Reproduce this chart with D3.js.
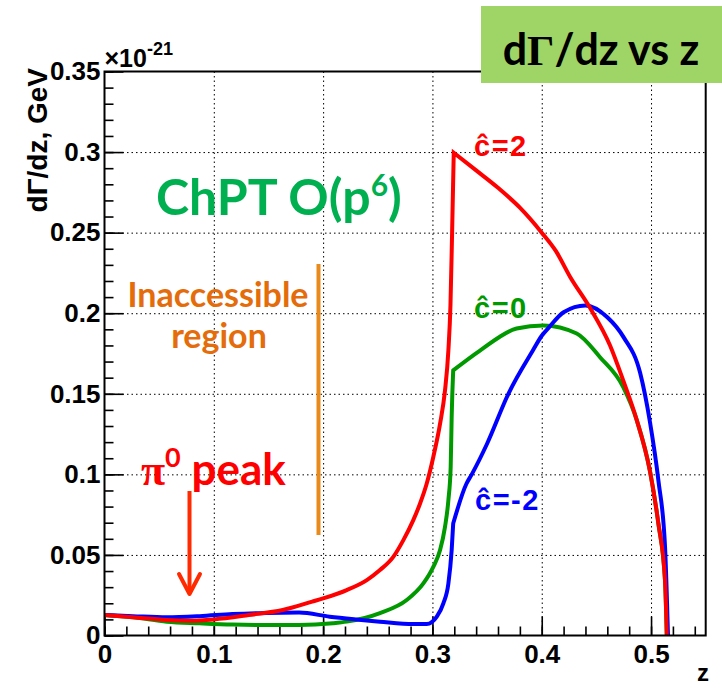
<!DOCTYPE html>
<html>
<head>
<meta charset="utf-8">
<script src="https://cdn.jsdelivr.net/npm/d3@7"></script>
<style>
  body { margin: 0; background: #fff; }
  .axis text { font-family: "Liberation Sans", Arial, sans-serif; font-weight: bold; font-size: 26px; fill: #000; }
  .axis line { stroke: #000; stroke-width: 1.6px; }
  .axis path { display: none; }
  .grid line { stroke: #000; stroke-width: 1px; stroke-dasharray: 1.5,3; }
  .grid path { display: none; }
  .note { font-family: Lato, "Open Sans", sans-serif; font-weight: bold; }
  .clab { font-family: "Liberation Sans", Arial, sans-serif; font-weight: bold; font-size: 29px; letter-spacing: 1.5px; }
</style>
</head>
<body>
<div id="chart"></div>
<script>
var w = 722, h = 688;
// frame of the plot
var frameL = 104.5, frameR = 705.7, frameT = 71.5, frameB = 635.5;

// tick values and labels
var xTicks = [0, 0.1, 0.2, 0.3, 0.4, 0.5];
var xLabels = ["0", "0.1", "0.2", "0.3", "0.4", "0.5"];
var yTicks = [0, 0.05, 0.1, 0.15, 0.2, 0.25, 0.3, 0.35];
var yLabels = ["0", "0.05", "0.1", "0.15", "0.2", "0.25", "0.3", "0.35"];

// c-hat = 2 (red)
var redZ = [0, 0.026, 0.057, 0.078, 0.1, 0.132, 0.163, 0.19, 0.2, 0.2216, 0.24, 0.252, 0.2642, 0.2734, 0.2825, 0.2887, 0.2948, 0.3008, 0.307, 0.3115, 0.3146, 0.3165, 0.318, 0.3195, 0.34, 0.36, 0.38, 0.40, 0.413, 0.426, 0.444, 0.4625, 0.4747, 0.487, 0.499, 0.5067, 0.5128, 0.5144];
var redV = [0.0127, 0.0113, 0.0096, 0.0092, 0.0100, 0.0127, 0.0158, 0.0210, 0.0230, 0.0282, 0.0344, 0.0406, 0.0488, 0.0592, 0.0716, 0.0819, 0.0943, 0.1108, 0.1315, 0.152, 0.177, 0.205, 0.250, 0.2996, 0.2886, 0.2778, 0.2655, 0.2500, 0.2385, 0.2225, 0.2035, 0.180, 0.158, 0.1335, 0.1020, 0.0695, 0.034, 0];

// c-hat = 0 (green)
var greenZ = [0, 0.026, 0.057, 0.087, 0.117, 0.148, 0.178, 0.209, 0.2216, 0.252, 0.2765, 0.2917, 0.3008, 0.307, 0.3115, 0.3146, 0.3167, 0.3176, 0.319, 0.3435, 0.377, 0.4015, 0.432, 0.4533, 0.4747, 0.487, 0.499, 0.5067, 0.5128, 0.5144];
var greenV = [0.0127, 0.0113, 0.0086, 0.0076, 0.0068, 0.0065, 0.0065, 0.0076, 0.0086, 0.0139, 0.022, 0.0323, 0.0426, 0.053, 0.0674, 0.084, 0.1046, 0.1356, 0.1645, 0.1768, 0.1905, 0.1924, 0.1874, 0.1727, 0.154, 0.1335, 0.1020, 0.0695, 0.034, 0];

// c-hat = -2 (blue)
var blueZ = [0, 0.026, 0.057, 0.087, 0.117, 0.148, 0.178, 0.206, 0.23, 0.252, 0.2826, 0.2948, 0.304, 0.31, 0.3146, 0.3176, 0.319, 0.331, 0.336, 0.35, 0.3695, 0.392, 0.40, 0.407, 0.42, 0.44, 0.46, 0.475, 0.49, 0.499, 0.5067, 0.5128, 0.5155];
var blueV = [0.0127, 0.0120, 0.0113, 0.0120, 0.0133, 0.0140, 0.0142, 0.0117, 0.0100, 0.0086, 0.0071, 0.0071, 0.0117, 0.020, 0.0323, 0.053, 0.0695, 0.094, 0.100, 0.119, 0.150, 0.177, 0.186, 0.1915, 0.2006, 0.2048, 0.1975, 0.185, 0.163, 0.1325, 0.0963, 0.055, 0];

var xScale = d3.scaleLinear().domain([0, 0.55]).range([frameL, frameR]);
var yScale = d3.scaleLinear().domain([0, 0.35]).range([frameB, frameT]);

var svg = d3.select("#chart").append("svg")
  .attr("width", w).attr("height", h);
svg.append("rect").attr("width", w).attr("height", h).attr("fill", "#fff");

// dotted grid
svg.append("g").attr("class", "grid")
  .attr("transform", "translate(0," + frameB + ")")
  .call(d3.axisBottom(xScale).tickValues(xTicks.slice(1)).tickSize(-(frameB - frameT)).tickFormat(""));
svg.append("g").attr("class", "grid")
  .attr("transform", "translate(" + frameL + ",0)")
  .call(d3.axisLeft(yScale).tickValues(yTicks.slice(1, -1)).tickSize(-(frameR - frameL)).tickFormat(""));

// minor ticks
svg.append("g").attr("class", "axis")
  .attr("transform", "translate(0," + frameB + ")")
  .call(d3.axisBottom(xScale).tickValues(d3.range(0, 0.551, 0.02)).tickSizeInner(-9).tickSizeOuter(0).tickFormat(""));
svg.append("g").attr("class", "axis")
  .attr("transform", "translate(" + frameL + ",0)")
  .call(d3.axisLeft(yScale).tickValues(d3.range(0, 0.351, 0.01)).tickSizeInner(-9).tickSizeOuter(0).tickFormat(""));

// major ticks + labels
svg.append("g").attr("class", "axis")
  .attr("transform", "translate(0," + frameB + ")")
  .call(d3.axisBottom(xScale).tickValues(xTicks).tickSizeInner(-19).tickSizeOuter(0).tickPadding(9)
    .tickFormat(function(d, i) { return xLabels[i]; }));
svg.append("g").attr("class", "axis")
  .attr("transform", "translate(" + frameL + ",0)")
  .call(d3.axisLeft(yScale).tickValues(yTicks).tickSizeInner(-19).tickSizeOuter(0).tickPadding(4)
    .tickFormat(function(d, i) { return yLabels[i]; }));

// curves: smooth on each side of the jump, sharp corner at the jump
var line = d3.line()
  .x(function(d) { return xScale(d[0]); })
  .y(function(d) { return yScale(d[1]); })
  .curve(d3.curveMonotoneX);

function curvePath(zs, vs, zBreak) {
  var pts = d3.zip(zs, vs);
  var a = pts.filter(function(p) { return p[0] <= zBreak; });
  var b = pts.filter(function(p) { return p[0] >= zBreak; });
  return line(a) + line(b).replace(/^M/, "L");
}

var series = [
  {z: greenZ, v: greenV, brk: 0.319, color: "#009a00"},
  {z: blueZ, v: blueV, brk: 0.319, color: "#0000ff"},
  {z: redZ, v: redV, brk: 0.3195, color: "#ff0000"}
];
series.forEach(function(s) {
  svg.append("path")
    .attr("d", curvePath(s.z, s.v, s.brk))
    .attr("fill", "none")
    .attr("stroke", s.color)
    .attr("stroke-width", 4)
    .attr("stroke-linejoin", "miter");
});

// frame
svg.append("rect")
  .attr("x", frameL).attr("y", frameT)
  .attr("width", frameR - frameL).attr("height", frameB - frameT)
  .attr("fill", "none").attr("stroke", "#000").attr("stroke-width", 2);

// axis titles
var ex = svg.append("text")
  .attr("x", frameL).attr("y", 67)
  .style("font-family", "Liberation Sans, Arial, sans-serif")
  .style("font-weight", "bold")
  .style("font-size", "25px");
ex.append("tspan").text("\u00d710");
ex.append("tspan").attr("dy", -12).style("font-size", "18px").text("-21");

svg.append("text")
  .attr("transform", "translate(47,68) rotate(-90)")
  .attr("text-anchor", "end")
  .style("font-family", "Liberation Sans, Arial, sans-serif")
  .style("font-weight", "bold")
  .style("font-size", "28px")
  .text("d\u0393/dz, GeV");

svg.append("text")
  .attr("x", 709).attr("y", 681)
  .attr("text-anchor", "end")
  .style("font-family", "Liberation Sans, Arial, sans-serif")
  .style("font-weight", "bold")
  .style("font-size", "24px")
  .text("z");

// title box
svg.append("rect")
  .attr("x", 481).attr("y", 6).attr("width", 241).attr("height", 77)
  .attr("fill", "#9fd466");
var tt = svg.append("text")
  .attr("class", "note")
  .attr("x", 601).attr("y", 65)
  .attr("text-anchor", "middle")
  .style("font-size", "43px")
  .attr("fill", "#000");
tt.append("tspan").text("d");
tt.append("tspan").style("font-family", "Liberation Serif, serif").text("\u0393");
tt.append("tspan").text("/dz vs z");

// annotations
var ch = svg.append("text").attr("class", "note")
  .attr("x", 156).attr("y", 215)
  .style("font-size", "50px").attr("fill", "#00b050");
ch.append("tspan").text("ChPT O(p");
ch.append("tspan").attr("dy", -19).style("font-size", "30px").text("6");
ch.append("tspan").attr("dy", 19).text(")");

svg.append("text").attr("class", "note")
  .attr("x", 218).attr("y", 307).attr("text-anchor", "middle")
  .style("font-size", "34px").attr("fill", "#e46c0a")
  .text("Inaccessible");
svg.append("text").attr("class", "note")
  .attr("x", 219).attr("y", 348).attr("text-anchor", "middle")
  .style("font-size", "34px").attr("fill", "#e46c0a")
  .text("region");

svg.append("line")
  .attr("x1", 318.5).attr("x2", 318.5).attr("y1", 264).attr("y2", 535)
  .attr("stroke", "#ea8a1c").attr("stroke-width", 4);

var pk = svg.append("text").attr("class", "note")
  .attr("x", 141).attr("y", 485)
  .style("font-size", "44px").attr("fill", "#ff0000");
pk.append("tspan").style("font-family", "Liberation Serif, serif").text("\u03c0");
pk.append("tspan").attr("dy", -18).style("font-size", "27px").text("0");
pk.append("tspan").attr("dy", 18).text(" peak");

// arrow
svg.append("line")
  .attr("x1", 189.5).attr("x2", 189.5).attr("y1", 491).attr("y2", 592)
  .attr("stroke", "#ff2a00").attr("stroke-width", 4);
svg.append("polyline")
  .attr("points", "179,574 189.5,594 200,574")
  .attr("fill", "none").attr("stroke", "#ff2a00").attr("stroke-width", 4)
  .attr("stroke-linecap", "round").attr("stroke-linejoin", "round");

// curve labels
svg.append("text").attr("class", "clab").attr("x", 474).attr("y", 156).attr("fill", "#ff0000").text("\u0109=2");
svg.append("text").attr("class", "clab").attr("x", 474).attr("y", 318).attr("fill", "#009a00").text("\u0109=0");
svg.append("text").attr("class", "clab").attr("x", 475).attr("y", 510).attr("fill", "#0000ff").text("\u0109=-2");
</script>
</body>
</html>
